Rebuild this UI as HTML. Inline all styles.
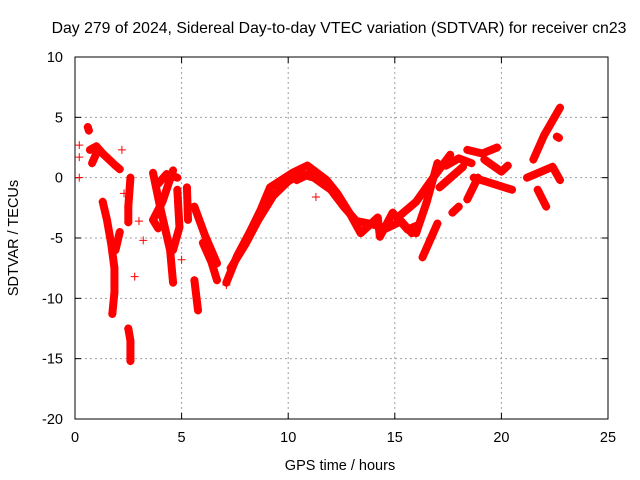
<!DOCTYPE html>
<html><head><meta charset="utf-8"><style>
body{margin:0;background:#fff;}
svg{display:block;font-family:"Liberation Sans",sans-serif;}
</style></head><body>
<svg id="chart" width="640" height="480">
<text x="339" y="33" font-size="15.8" text-anchor="middle">Day 279 of 2024, Sidereal Day-to-day VTEC variation (SDTVAR) for receiver cn23</text>
<g id="grid"></g>
<g id="axes"></g>
<g id="marks"></g>
<text x="340" y="470" font-size="14.5" text-anchor="middle">GPS time / hours</text>
<text transform="translate(18,238) rotate(-90)" font-size="14.5" text-anchor="middle">SDTVAR / TECUs</text>
</svg>
<script>
const xTicks=[0,5,10,15,20,25];
const yTicks=[10,5,0,-5,-10,-15,-20];
// tracks: arrays of [hour, TECU]
const trackEarly1=[[0.6,4.2],[0.65,3.9]];
const trackEarly2=[[0.7,2.3],[0.9,2.5],[1.0,2.0],[0.8,1.2]];
const trackEarly3=[[1.0,2.6],[1.3,2.0],[1.6,1.5],[1.9,1.0],[2.1,0.7]];
const trackA=[[1.3,-2.0],[1.5,-3.5],[1.7,-5.5],[1.85,-7.5],[1.85,-9.5],[1.75,-11.3]];
const trackA2=[[2.1,-4.5],[1.9,-6.0]];
const trackB=[[2.5,-12.5],[2.6,-13.5],[2.6,-15.2]];
const trackC=[[2.6,0.0],[2.5,-2.4],[2.5,-3.7]];
const trackX1=[[3.66,0.4],[4.0,-2.5],[4.46,-6.0],[4.6,-8.7]];
const trackX2=[[4.6,0.6],[4.1,-2.0],[3.66,-3.5],[3.9,-4.2]];
const trackX3=[[4.8,-1.0],[4.9,-4.1],[4.6,-6.0]];
const trackX4=[[3.9,-0.5],[4.3,0.3],[4.8,0.0]];
const trackD=[[5.25,-0.8],[5.3,-3.5]];
const trackE=[[5.6,-2.4],[6.1,-4.8],[6.66,-7.1]];
const trackE2=[[6.0,-5.4],[6.4,-7.0],[6.66,-8.5]];
const trackF=[[5.6,-8.5],[5.77,-11.0]];
const trackMain=[[7.1,-8.7],[7.6,-6.5],[8.2,-4.5],[8.7,-2.7],[9.15,-0.8],[10.2,0.4],[10.9,1.0],[11.8,-0.2],[12.3,-1.3],[12.9,-3.0],[13.4,-4.6],[14.2,-3.3],[14.3,-4.9],[14.9,-2.9],[15.6,-4.3],[16.0,-4.0]];
const trackMain2=[[7.3,-7.5],[8.0,-5.5],[8.6,-3.5],[9.3,-1.5],[10.0,-0.3],[10.6,0.3],[11.2,0.0],[12.0,-1.0],[12.6,-2.4],[13.2,-3.6],[13.8,-3.8],[14.6,-4.2],[15.3,-3.6],[15.8,-4.6]];
const trackMain3=[[10.4,-0.2],[11.2,0.5],[11.6,0.0]];
const trackR1=[[15.2,-3.2],[16.0,-2.0],[16.8,0.0],[17.6,1.9]];
const trackR2=[[16.0,-4.6],[16.5,-2.0],[17.0,1.2]];
const trackR3=[[16.3,-6.6],[17.0,-3.8]];
const trackR4=[[17.1,-0.8],[18.2,0.9]];
const trackR5=[[17.7,-2.9],[18.0,-2.4]];
const trackR6=[[18.4,-1.8],[18.9,0.0]];
const trackR7=[[18.4,2.3],[19.1,2.0],[19.8,2.5]];
const trackR8=[[18.7,0.0],[19.6,-0.5],[20.5,-1.0]];
const trackR9=[[19.2,1.5],[20.0,0.5],[20.3,1.0]];
const trackR10=[[17.4,1.0],[18.0,1.6],[18.6,1.2]];
const trackS1=[[21.5,1.5],[22.0,3.5],[22.75,5.8]];
const trackS2=[[21.2,0.0],[22.4,0.9],[22.75,-0.2]];
const trackS3=[[21.7,-1.0],[22.1,-2.4]];
const trackS4=[[22.6,3.4],[22.7,3.3]];
const tracks=[trackEarly1,trackEarly2,trackEarly3,trackA,trackA2,trackB,trackC,trackX1,trackX2,trackX3,trackX4,trackD,trackE,trackE2,trackF,trackMain,trackMain2,trackMain3,trackR1,trackR2,trackR3,trackR4,trackR5,trackR6,trackR7,trackR8,trackR9,trackR10,trackS1,trackS2,trackS3,trackS4];
const singles=[[0.2,2.7],[0.2,1.7],[0.2,0.0],[2.2,2.3],[2.3,-1.3],[2.8,-8.2],[3.2,-5.2],[3.0,-3.6],[5.0,-6.8],[7.1,-8.9],[11.3,-1.6]];

const L=75,R=608,T=57,B=419;
const sx=v=>L+(v-0)/(25-0)*(R-L);
const sy=v=>T+(10-v)/(10-(-20))*(B-T);
const NS="http://www.w3.org/2000/svg";
const grid=document.getElementById('grid'),axes=document.getElementById('axes'),marks=document.getElementById('marks');
function mk(tag,attrs,parent){const e=document.createElementNS(NS,tag);for(const k in attrs)e.setAttribute(k,attrs[k]);parent.appendChild(e);return e;}
xTicks.forEach(t=>{
  const x=sx(t);
  if(t>0&&t<25){const g=mk('line',{x1:x,y1:T,x2:x,y2:B,stroke:'#a0a0a0','stroke-dasharray':'2,3'},grid);
  
  }
  mk('line',{x1:x,y1:B,x2:x,y2:B-6,stroke:'#000'},axes);
  mk('line',{x1:x,y1:T,x2:x,y2:T+6,stroke:'#000'},axes);
  const tx=mk('text',{x:x,y:B+23,'font-size':14.5,'text-anchor':'middle'},axes);tx.textContent=t;
  
  
});
yTicks.forEach(t=>{
  const y=sy(t);
  if(t<10&&t>-20){const g=mk('line',{x1:L,y1:y,x2:R,y2:y,stroke:'#a0a0a0','stroke-dasharray':'2,3'},grid);
  
  }
  mk('line',{x1:L,y1:y,x2:L+6,y2:y,stroke:'#000'},axes);
  mk('line',{x1:R,y1:y,x2:R-6,y2:y,stroke:'#000'},axes);
  const tx=mk('text',{x:L-12,y:y+5,'font-size':14.5,'text-anchor':'end'},axes);tx.textContent=t;
  
  
});
mk('rect',{x:L,y:T,width:R-L,height:B-T,fill:'none',stroke:'#000'},axes);
tracks.forEach(tr=>{
  const p=mk('polyline',{points:tr.map(d=>sx(d[0])+','+sy(d[1])).join(' '),fill:'none',stroke:'#ff0000','stroke-width':8,'stroke-linejoin':'round','stroke-linecap':'round'},marks);
  
  
});
function plus(d){const x=sx(d[0]),y=sy(d[1]);
  const p=mk('path',{d:`M${x-4},${y}H${x+4}M${x},${y-4}V${y+4}`,stroke:'#ff0000','stroke-width':1},marks);
  
  }
tracks.forEach(tr=>tr.forEach(plus));
singles.forEach(plus);
</script>
</body></html>
